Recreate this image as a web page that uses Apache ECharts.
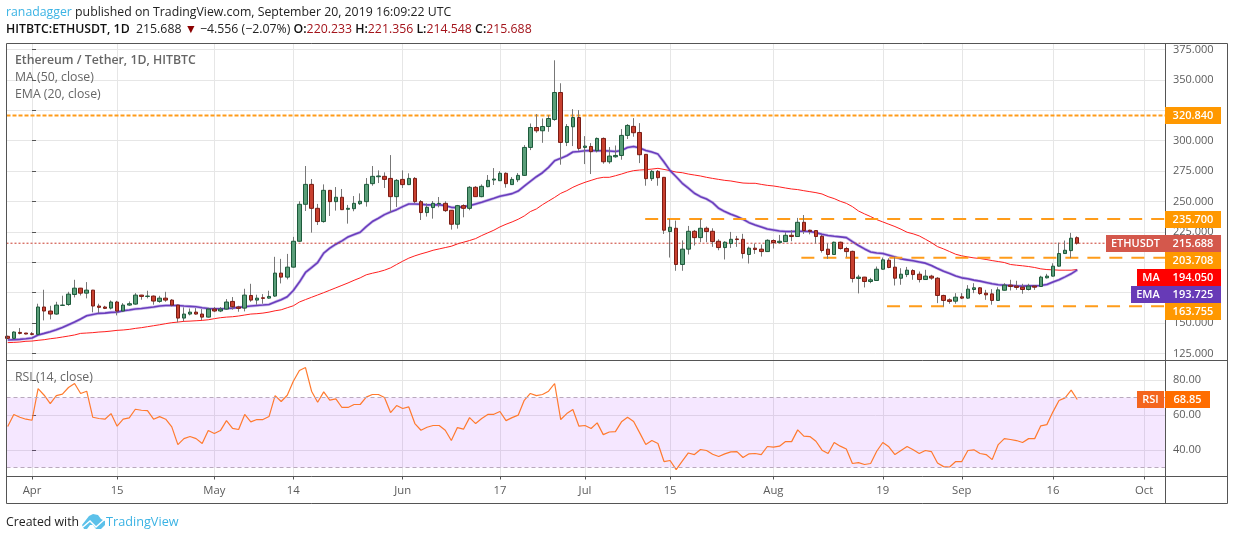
<!DOCTYPE html>
<html><head><meta charset="utf-8">
<style>html,body{margin:0;padding:0;background:#fff}#c{width:1234px;height:540px}</style>
<script src="https://cdn.jsdelivr.net/npm/echarts@6/dist/echarts.min.js"></script>
</head><body><div id="c"></div>
<script>
// First candle is 2019-03-28 = day -4 (day 0 = Apr 1)
const firstDay = -4;
const tickDays = [0,14,30,43,61,77,91,105,122,140,153,168,183];
const tickLabels = ['Apr','15','May','14','Jun','17','Jul','15','Aug','19','Sep','16','Oct'];
const priceTicks = [125,150,175,200,225,250,275,300,325,350,375];
const priceLabelTicks = [125,150,225,250,275,300,350,375];
const rsiTicks = [40,60,80];
// [open, close, low, high]
const candles = [
[139.1,137.4,136.9,139.6],[137.4,142.6,137.4,143.2],[142.3,141.5,140.7,145.9],[141.8,141.0,140.7,141.8],[141.2,140.7,139.9,142.6],
[140.7,163.2,140.4,165.9],[163.2,159.9,152.2,177.4],[159.9,157.4,153.0,164.2],[157.4,164.8,156.9,167.5],[164.5,164.8,164.2,172.5],
[165.3,173.8,164.2,175.7],[173.5,178.7,171.1,185.6],[178.7,174.6,172.7,178.9],[174.6,177.1,170.3,183.7],[177.1,164.0,158.8,177.3],
[164.0,162.9,158.2,165.9],[163.2,162.1,161.5,164.2],[162.3,167.3,161.2,168.6],[167.3,159.9,156.3,168.3],[159.9,164.8,159.3,166.4],
[164.8,165.9,164.2,167.8],[165.6,173.0,165.1,174.6],[173.0,171.9,169.2,173.2],[171.9,172.2,170.3,176.6],[172.2,168.1,165.1,172.7],
[167.8,170.5,166.7,172.4],[170.5,168.9,167.5,175.7],[168.9,164.8,163.7,169.7],[164.8,154.1,150.6,165.1],[154.1,157.4,151.4,162.9],
[157.4,159.0,156.3,162.0],[159.0,157.4,156.9,162.3],[157.4,154.9,152.5,161.5],[154.9,161.5,154.6,162.6],[161.5,159.9,159.0,163.2],
[159.9,161.5,159.0,163.2],[161.5,167.3,161.0,169.7],[167.8,163.4,161.0,171.4],[163.2,162.1,159.3,164.2],[162.3,173.0,159.6,178.2],
[172.7,168.9,167.5,182.3],[168.9,170.5,165.1,173.3],[170.8,170.3,165.9,173.8],[170.5,171.9,170.0,176.6],[172.2,191.1,171.6,204.5],
[191.1,187.8,182.6,202.8],[187.8,196.0,185.9,206.9],[196.0,217.3,195.7,220.9],[217.3,247.7,217.0,250.2],[247.7,264.1,242.2,279.2],
[264.1,244.4,224.4,268.5],[244.4,233.5,230.7,248.0],[233.5,259.2,232.6,264.1],[259.2,249.9,238.1,259.5],[249.9,253.5,242.5,261.9],
[253.5,243.3,243.0,260.3],[243.6,244.4,231.8,247.2],[244.1,248.5,242.0,254.5],[248.2,250.2,247.2,256.7],[249.9,264.1,245.8,269.3],
[264.7,270.7,263.0,279.2],[270.4,271.0,265.2,275.6],[270.7,268.2,261.1,274.0],[269.0,254.0,240.9,288.2],[254.0,267.4,245.5,268.5],
[268.2,263.9,261.1,275.6],[263.9,269.0,263.5,273.2],[269.0,249.9,248.5,270.1],[249.9,240.9,234.8,251.2],[240.9,245.2,237.6,248.5],
[245.0,248.5,235.9,250.4],[248.2,248.5,245.2,253.7],[248.5,242.5,241.4,250.2],[242.8,231.3,226.9,243.0],[231.3,246.6,227.7,247.2],
[246.6,244.4,237.0,247.7],[244.4,261.7,242.8,262.7],[261.7,254.0,253.7,262.7],[254.0,262.5,253.5,264.1],[262.2,267.4,261.7,271.8],
[267.7,268.5,263.6,277.5],[267.1,273.2,266.9,275.0],[273.2,264.7,261.4,274.0],[263.9,268.2,263.6,270.1],[267.9,271.5,266.0,273.4],
[271.5,294.5,271.0,296.4],[294.5,310.9,292.3,314.2],[310.9,308.2,306.6,321.9],[308.2,311.7,298.3,318.3],[311.7,318.3,307.4,321.0],
[317.5,339.7,316.4,366.2],[339.7,298.6,280.3,347.3],[298.6,311.7,295.6,313.7],[311.5,319.1,295.6,326.0],[319.1,293.7,291.8,325.2],
[294.5,295.6,280.8,303.8],[295.3,291.0,272.6,298.1],[291.8,301.9,290.4,302.7],[301.9,282.7,281.1,302.7],[282.7,287.4,281.1,294.8],
[286.8,287.9,286.0,296.1],[287.9,304.4,284.4,309.6],[304.4,312.6,301.4,313.7],[311.8,306.6,303.3,318.6],[306.8,288.5,281.6,314.5],
[288.8,268.8,263.0,289.0],[268.8,274.8,266.9,275.9],[274.8,269.6,263.0,275.9],[269.9,226.4,223.3,270.2],[225.3,228.8,203.9,235.7],
[228.0,198.2,193.0,234.3],[198.2,210.8,193.0,218.0],[210.8,225.5,206.4,229.9],[225.5,220.3,213.8,226.6],[220.3,228.0,216.5,235.7],
[228.0,225.3,216.5,229.4],[225.5,217.0,212.7,228.0],[217.3,212.1,209.9,218.9],[212.1,216.5,202.3,217.3],[215.4,218.9,211.8,225.0],
[219.2,218.7,212.7,221.7],[218.9,207.2,203.1,223.4],[206.4,211.6,199.0,212.9],[211.6,210.5,206.9,215.4],[210.8,208.8,204.7,214.6],
[208.8,218.1,208.6,218.9],[217.9,216.2,211.3,218.9],[216.2,217.3,215.7,222.5],[217.0,222.2,216.8,224.7],[222.2,221.2,217.3,226.6],
[221.2,232.9,220.9,236.5],[232.9,226.1,223.3,238.9],[226.4,225.5,223.0,226.8],[226.1,221.2,215.4,226.4],[221.4,209.7,208.0,222.5],
[210.8,206.4,202.8,215.7],[206.4,216.5,206.2,217.0],[216.5,211.3,210.5,217.0],[211.3,208.8,204.2,212.7],[209.0,186.7,183.4,209.6],
[186.7,187.8,174.4,189.7],[187.8,184.2,179.3,188.0],[184.2,185.6,182.8,187.2],[185.0,194.3,184.7,196.5],[194.3,202.0,194.0,203.9],
[201.7,195.7,195.1,203.3],[196.0,186.9,180.9,204.0],[186.9,190.2,181.5,195.1],[189.9,193.5,187.8,196.2],[193.2,189.9,185.6,194.3],
[190.2,185.8,183.4,192.4],[185.8,188.6,185.6,193.8],[188.6,187.0,185.6,189.7],[186.9,172.7,166.4,187.8],[172.7,168.6,163.7,173.3],
[169.1,167.8,165.9,170.3],[168.0,171.3,165.9,174.6],[171.6,170.5,169.7,174.6],[170.5,177.9,170.0,181.2],[177.6,179.0,174.6,182.8],
[179.0,174.3,173.2,179.5],[174.6,173.2,169.1,177.3],[174.0,168.6,165.1,177.9],[168.6,177.3,168.3,179.5],[177.0,181.2,176.8,182.8],
[181.2,180.1,176.8,185.6],[180.4,179.3,177.3,184.8],[179.5,177.6,174.1,182.3],[177.6,180.4,176.8,182.3],[180.4,179.5,177.3,181.2],
[180.1,187.8,179.8,188.9],[187.2,188.6,186.7,190.5],[188.6,196.8,188.3,199.2],[196.8,207.2,196.5,216.2],[207.2,209.9,207.0,217.9],
[209.6,219.8,203.4,224.2],[220.233,215.688,214.548,221.356]
];
const ema20 = [136.0,136.3,136.6,137.1,137.7,140.2,141.5,142.9,144.5,146.4,148.6,150.8,153.3,156.0,157.1,158.0,158.2,158.8,159.0,160.1,160.7,161.5,162.0,162.6,163.2,164.0,164.5,164.5,164.5,164.0,163.7,163.4,162.6,162.0,161.8,161.8,162.0,162.3,162.9,163.4,164.0,164.5,164.8,165.3,167.3,169.2,171.6,176.8,183.7,
191.6,195.7,199.8,207.5,211.6,214.9,217.6,220.9,222.8,224.7,229.4,233.5,236.2,239.2,241.4,243.3,245.8,248.0,248.0,247.7,247.2,247.2,247.4,246.6,245.2,245.0,245.8,246.6,248.0,249.4,251.0,252.6,254.3,255.4,256.5,258.6,262.7,266.6,270.4,273.7,278.1,283.6,285.5,287.7,290.7,291.2,
291.8,292.0,291.8,291.8,291.5,291.2,292.0,294.5,295.3,294.0,292.0,290.7,289.0,282.5,275.4,270.4,265.0,261.1,256.8,254.0,252.1,249.1,244.4,241.7,239.5,237.6,235.4,232.6,230.7,229.1,227.4,226.6,225.8,225.3,225.3,225.5,225.5,225.3,224.4,223.1,222.0,221.4,220.9,220.3,217.0,213.8,211.0,
208.5,207.7,207.2,205.8,204.4,202.8,202.0,201.2,200.3,199.3,197.3,194.9,192.7,190.8,188.8,187.2,186.4,185.3,184.5,183.4,182.3,181.5,181.2,180.9,180.6,180.4,180.6,180.6,180.9,181.7,183.7,185.6,188.0,190.5,193.725];
const ma50 = [133.9,134.1,134.4,135.0,135.2,135.8,136.3,137.1,137.7,138.5,139.3,140.2,141.5,141.8,142.1,142.6,142.9,143.4,144.0,144.3,144.8,145.6,146.2,147.0,147.8,148.6,149.5,150.3,150.8,151.4,151.6,151.9,152.2,152.7,153.6,154.4,154.9,155.2,155.8,156.6,157.4,157.7,158.2,159.0,160.1,160.9,162.6,164.2,167.3,
169.3,171.2,173.1,175.0,177.0,179.0,181.0,183.0,185.2,187.2,189.7,191.0,192.1,193.5,195.4,198.2,200.9,203.4,205.3,206.9,208.3,209.9,211.0,212.1,213.2,215.1,216.5,217.9,219.5,222.0,224.2,226.4,229.1,231.3,233.2,235.4,238.1,241.7,243.9,247.4,250.4,253.4,256.7,258.9,261.7,263.9,
265.8,267.4,269.0,269.9,269.9,271.2,272.6,274.2,275.4,275.9,276.2,276.7,277.3,276.4,275.4,274.2,273.7,272.6,271.8,271.0,269.9,269.0,268.2,267.4,266.9,266.0,265.2,265.0,265.0,264.1,263.3,262.8,262.0,261.1,260.3,259.8,258.9,258.1,257.3,256.2,254.0,252.4,250.2,248.5,245.8,242.2,239.8,
237.6,235.1,233.2,231.3,229.4,227.2,224.7,223.4,221.7,219.0,216.2,212.9,211.0,208.8,206.6,205.3,204.4,203.6,203.1,202.3,201.4,200.6,199.8,198.2,197.6,197.1,196.5,195.7,194.6,194.0,193.8,193.5,193.5,193.5,194.05];
const rsi14 = [53.4,60.3,58.7,57.6,57.0,75.1,71.3,66.5,71.1,71.9,75.7,78.0,72.3,73.6,58.7,58.0,57.6,60.8,53.6,57.6,58.4,63.3,62.7,62.5,57.6,59.1,57.6,53.2,43.1,46.5,47.7,46.5,43.7,51.1,49.4,51.1,56.8,52.4,51.7,60.3,56.1,57.4,57.4,59.1,71.1,67.7,71.3,79.3,85.4,87.1,73.6,67.3,73.2,68.5,69.2,64.3,64.3,66.0,66.0,70.2,71.7,71.7,70.0,61.4,65.4,63.7,64.6,55.1,51.3,
53.0,54.0,54.0,51.3,45.4,52.8,51.9,58.5,55.1,58.0,60.3,60.4,62.0,56.8,58.5,59.9,68.4,72.3,71.1,71.7,73.6,78.0,57.4,60.8,63.1,53.6,54.0,52.3,55.5,48.8,50.3,50.5,56.1,58.7,56.3,49.8,43.1,45.4,43.7,33.4,34.0,28.8,33.6,38.3,37.4,40.3,39.7,37.6,36.3,37.8,38.9,39.1,35.7,37.8,38.0,37.4,42.0,41.6,42.2,44.8,44.8,51.5,47.9,47.7,45.0,39.9,38.0,44.3,
42.2,40.6,32.3,32.8,31.7,32.3,39.3,44.3,41.8,37.4,39.7,42.0,40.1,38.0,39.7,39.1,32.6,30.5,30.3,33.4,33.4,39.7,40.1,38.0,37.4,34.5,43.1,46.5,46.0,45.4,44.3,46.5,46.5,53.8,54.5,61.8,68.3,69.8,74.2,68.85];
// horizontal levels: [price, first day drawn]
const levels = [[320.84,-5],[235.7,100.9],[203.708,126.6],[163.755,140.7]];
const lastClose = 215.688, lastMA = 194.05, lastEMA = 193.725, lastRSI = 68.85;
const rsiBand = [70,30];

const FONT = '"Open Sans", sans-serif';
const xMin = -4.2, xMax = 186.44;
const days = candles.map((_, i) => firstDay + i);
const bodyOf = c => [c[0], c[1], Math.min(c[0], c[1]), Math.max(c[0], c[1])];
const GREEN = '#5a9e79', GREEND = '#1d5a3b', RED = '#c8402f', REDD = '#7b1c14', WICK = '#777777';
const pair = a => a.map((v, i) => [days[i], v]);

const chart = echarts.init(document.getElementById('c'), null, {renderer: 'canvas'});
const xAxisBase = (gi, labels) => ({
  type: 'value', gridIndex: gi, min: xMin, max: xMax, scale: true,
  axisLine: {show: false},
  axisTick: {show: labels, length: 3, customValues: tickDays, lineStyle: {color: '#555'}},
  axisLabel: {show: labels, customValues: tickDays, color: '#5c5c5c', fontFamily: FONT, fontSize: 11.3, margin: 9,
    hideOverlap: false, showMinLabel: true, showMaxLabel: true,
    formatter: v => tickLabels[tickDays.indexOf(v)]},
  splitLine: {show: true, lineStyle: {color: '#e6e6e6', width: 1}}
});
const yAxisBase = (gi, min, max, ticks, labelTicks, digits) => ({
  type: 'value', gridIndex: gi, position: 'right', min, max, scale: true,
  axisLine: {show: false},
  axisTick: {show: true, length: 4, customValues: ticks, lineStyle: {color: '#555'}},
  axisLabel: {customValues: labelTicks, color: '#5c5c5c', fontFamily: FONT, fontSize: 11, margin: 8, padding: [6, 0, 0, 0],
    formatter: v => v.toFixed(digits)},
  splitLine: {show: true, lineStyle: {color: '#e6e6e6', width: 1}}
});
const lineS = (name, data, color, width, z, extra) => Object.assign({
  type: 'line', name, data, showSymbol: false, symbol: 'none', silent: true, animation: false, z,
  xAxisIndex: 0, yAxisIndex: 0, lineStyle: {color, width}
}, extra || {});

const series = [];
series.push(lineS('MA', pair(ma50), '#ff1f1f', 1, 2));
series.push(lineS('EMA halo', pair(ema20), 'rgba(110,70,200,0.35)', 3, 2));
series.push(lineS('EMA', pair(ema20), '#6a3dbd', 1.6, 3));
series.push(lineS('Last', [[xMin, lastClose], [xMax, lastClose]], '#c93a2c', 1, 3, {lineStyle: {color: '#c93a2c', width: 1, type: [2, 2]}}));
levels.forEach((l, i) => {
  series.push(lineS('Level ' + l[0], [[Math.max(l[1], xMin), l[0]], [xMax, l[0]]], '#ff9800', 2, 4,
    {lineStyle: {color: '#ff9c1a', width: 2, type: i === 0 ? [4, 2] : [13, 9]}}));
});
series.push({type: 'candlestick', name: 'wick', xAxisIndex: 0, yAxisIndex: 0, barWidth: 1, z: 5, silent: true, animation: false,
  data: candles.map((c, i) => [days[i], c[0], c[1], c[2], c[3]]),
  itemStyle: {color: WICK, color0: WICK, borderColor: WICK, borderColor0: WICK, borderWidth: 1}});
series.push({type: 'candlestick', name: 'body', xAxisIndex: 0, yAxisIndex: 0, barWidth: 4, z: 6, silent: true, animation: false,
  data: candles.map((c, i) => [days[i]].concat(bodyOf(c))),
  itemStyle: {color: GREEN, color0: RED, borderColor: GREEND, borderColor0: REDD, borderWidth: 1}});
series.push({type: 'line', name: 'RSI', xAxisIndex: 1, yAxisIndex: 1, data: pair(rsi14), showSymbol: false, symbol: 'none',
  silent: true, animation: false, z: 4, lineStyle: {color: '#ff7a2e', width: 1.2},
  markArea: {silent: true, itemStyle: {color: 'rgba(153,21,255,0.1)'}, data: [[{yAxis: rsiBand[0]}, {yAxis: rsiBand[1]}]]},
  markLine: {silent: true, symbol: 'none', label: {show: false}, animation: false,
    lineStyle: {color: '#b9a9bd', width: 1, type: [4, 3]},
    data: rsiBand.map(v => ({yAxis: v}))}
});

const txt = (x, y, text, o) => ({type: 'text', x, y, z: 100, silent: true, style: Object.assign({
  text, fontFamily: FONT, fontSize: 12, fill: '#666', verticalAlign: 'middle', align: 'left'}, o || {})});
const rct = (x, y, w, h, fill) => ({type: 'rect', z: 99, silent: true, shape: {x, y, width: w, height: h}, style: {fill}});
const ln = (x1, y1, x2, y2) => ({type: 'line', z: 98, silent: true, shape: {x1, y1, x2, y2}, style: {stroke: '#555', lineWidth: 1}});
const tag = (x, y, w, h, fill, text) => [rct(x, y, w, h, fill),
  txt(x + w / 2, y + h / 2 + 0.5, text, {fill: '#fff', align: 'center', fontSize: 11, fontWeight: 600})];

const fix3 = v => v.toFixed(3);
const HS = 12.3;
const graphic = [
  {type: 'rect', z: 98, silent: true, shape: {x: 6.5, y: 43.5, width: 1221, height: 460}, style: {fill: 'none', stroke: '#555', lineWidth: 1}},
  ln(1165.5, 43.5, 1165.5, 503.5), ln(6.5, 360.5, 1227.5, 360.5), ln(6.5, 476.5, 1227.5, 476.5),
  txt(6, 12.5, '{a|ranadagger}{b| published on TradingView.com, September 20, 2019 16:09:22 UTC}', {
    rich: {a: {fill: '#3bb3e4', fontFamily: FONT, fontSize: HS}, b: {fill: '#222', fontFamily: FONT, fontSize: HS}}}),
  txt(6, 29.5, '{k|HITBTC:ETHUSDT, 1D}{b|  ' + fix3(lastClose) + ' }{t|▼}{b| −4.556 (−2.07%) }{k|O:}{r|220.233 }{k|H:}{r|221.356 }{k|L:}{r|214.548 }{k|C:}{r|215.688}', {
    rich: {k: {fill: '#111', fontFamily: FONT, fontSize: HS, fontWeight: 600}, b: {fill: '#222', fontFamily: FONT, fontSize: HS},
      r: {fill: '#a3131a', fontFamily: FONT, fontSize: HS}, t: {fill: '#8b0000', fontFamily: FONT, fontSize: HS}}}),
  txt(15, 60.5, 'Ethereum / Tether, 1D, HITBTC', {fontSize: HS, fontWeight: 600, fill: '#666'}),
  txt(15, 77.5, 'MA (50, close)', {fontSize: HS, fill: '#666'}),
  txt(15, 94.5, 'EMA (20, close)', {fontSize: HS, fill: '#666'}),
  txt(15, 377.5, 'RSI (14, close)', {fontSize: HS, fill: '#666'}),
  ...tag(1165, 107, 56, 17, '#ff9800', '320.840'),
  ...tag(1165, 211, 56, 17, '#ff9800', '235.700'),
  ...tag(1106, 235, 59, 17, '#d4584c', 'ETHUSDT'),
  ...tag(1165, 235, 56, 17, '#d4584c', fix3(lastClose)),
  ...tag(1165, 252, 56, 17, '#ff9800', '203.708'),
  ...tag(1137, 269, 28, 17, '#ff0000', 'MA'),
  ...tag(1165, 269, 56, 17, '#ff0000', fix3(lastMA)),
  ...tag(1131, 286, 34, 17, '#673ab7', 'EMA'),
  ...tag(1165, 286, 56, 17, '#673ab7', fix3(lastEMA)),
  ...tag(1165, 303, 56, 17, '#ff9800', '163.755'),
  ...tag(1137, 391, 27, 17, '#f4651f', 'RSI'),
  ...tag(1165, 391, 45, 17, '#ff6d00', lastRSI.toFixed(2)),
  txt(6, 522.5, 'Created with', {fontSize: HS, fill: '#222'}),
  {type: 'polygon', z: 99, silent: true, shape: {points: [[82,525],[89,516],[93,514],[98,515],[101,519],[105,521],[105,525],[101,529],[96,529],[93,525],[90,525],[87,529],[84,529]]}, style: {fill: '#5cc1ea'}},
  {type: 'polyline', z: 100, silent: true, shape: {points: [[83,527],[90,521],[96,527],[105,519]]}, style: {stroke: '#fff', lineWidth: 1.4, fill: 'none'}},
  txt(106, 522.5, 'TradingView', {fontSize: 12.7, fill: '#3bb3e4'})
];

chart.setOption({
  animation: false,
  backgroundColor: '#fff',
  grid: [
    {left: 6.5, right: 1234 - 1165, top: 44, height: 316, show: false},
    {left: 6.5, right: 1234 - 1165, top: 360.5, height: 116, show: false}
  ],
  xAxis: [xAxisBase(0, false), xAxisBase(1, true)],
  yAxis: [yAxisBase(0, 119.6, 379.6, priceTicks, priceLabelTicks, 3), yAxisBase(1, 24.86, 91.14, rsiTicks, rsiTicks, 2)],
  series,
  graphic
});
</script></body></html>
